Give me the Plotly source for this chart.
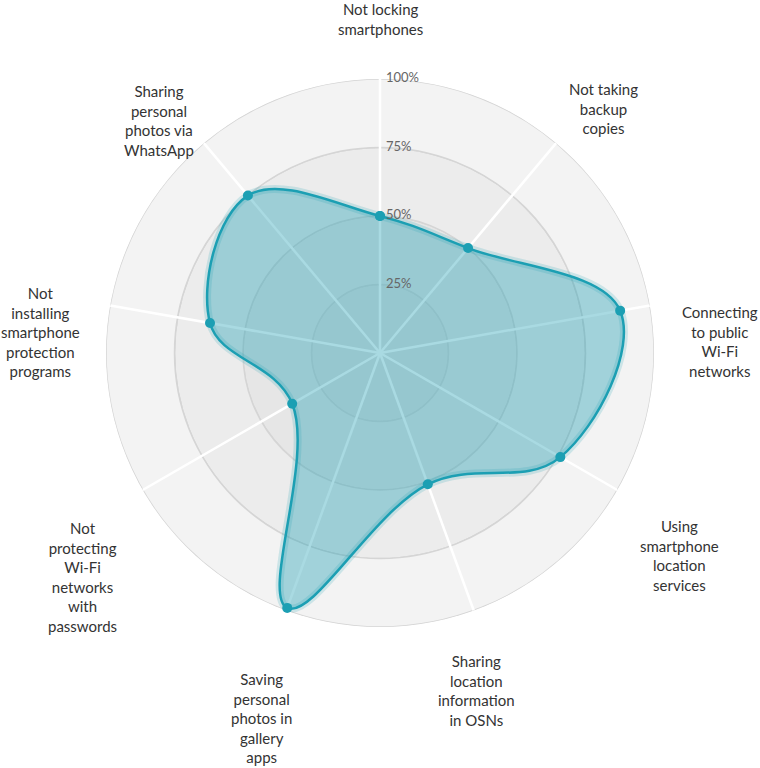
import math
import plotly.graph_objects as go

# ---- data ----
categories = [
    "Not locking smartphones",
    "Not taking backup copies",
    "Connecting to public Wi-Fi networks",
    "Using smartphone location services",
    "Sharing location information in OSNs",
    "Saving personal photos in gallery apps",
    "Not protecting Wi-Fi networks with passwords",
    "Not installing smartphone protection programs",
    "Sharing personal photos via WhatsApp",
]
category_labels = [
    "Not locking<br>smartphones",
    "Not taking<br>backup<br>copies",
    "Connecting<br>to public<br>Wi-Fi<br>networks",
    "Using<br>smartphone<br>location<br>services",
    "Sharing<br>location<br>information<br>in OSNs",
    "Saving<br>personal<br>photos in<br>gallery<br>apps",
    "Not<br>protecting<br>Wi-Fi<br>networks<br>with<br>passwords",
    "Not<br>installing<br>smartphone<br>protection<br>programs",
    "Sharing<br>personal<br>photos via<br>WhatsApp",
]
values = [50, 50, 89, 76, 51, 99, 37, 63, 75]
radial_ticks = [25, 50, 75, 100]
radial_tick_labels = ["25%", "50%", "75%", "100%"]

# ---- styling / layout ----
n = len(categories)
thetas = [i * 360.0 / n for i in range(n)]
# category label placement: distance (in axis units) and angle (deg, clockwise from top)
label_r = [122, 121, 124, 132, 128, 140, 136, 124, 117]
label_theta = [0, 42.5, 88, 124, 164, 198, 233, 273.5, 316.5]

teal = "#1c9fb3"
font_family = "Lato, 'Open Sans', sans-serif"

W, H = 760, 768
cx, cy, rad = 380, 353, 274   # polar centre and outer radius in pixels
r_max = 100.0

fig = go.Figure()

# concentric background bands
fig.add_trace(go.Barpolar(
    r=[25, 25, 25, 25],
    base=[0, 25, 50, 75],
    theta=[180, 180, 180, 180],
    width=[360, 360, 360, 360],
    marker=dict(color=["#e1e1e1", "#e6e6e6", "#ececec", "#f3f3f3"],
                line=dict(color="#d5d5d5", width=1.5)),
    hoverinfo="skip",
    showlegend=False,
))

# spokes
spoke_r, spoke_t = [], []
for t in thetas:
    spoke_r += [0, r_max, None]
    spoke_t += [t, t, None]
fig.add_trace(go.Scatterpolar(
    r=spoke_r, theta=spoke_t, mode="lines",
    line=dict(color="white", width=2.5),
    hoverinfo="skip", showlegend=False,
))

closed_r = values + [values[0]]
closed_t = thetas + [thetas[0]]

# soft glow under the line
fig.add_trace(go.Scatterpolar(
    r=closed_r, theta=closed_t, mode="lines",
    line=dict(color="rgba(28,159,179,0.18)", width=8, shape="spline", smoothing=1.1),
    hoverinfo="skip", showlegend=False,
))

# main series
fig.add_trace(go.Scatterpolar(
    r=closed_r, theta=closed_t, mode="lines+markers",
    fill="toself", fillcolor="rgba(28,159,179,0.38)",
    line=dict(color=teal, width=2.5, shape="spline", smoothing=1.1),
    marker=dict(color=teal, size=10),
    hoverinfo="skip", showlegend=False,
))

# radial tick labels (invisible markers give the text its offset from the spoke)
fig.add_trace(go.Scatterpolar(
    r=radial_ticks, theta=[0] * len(radial_ticks), mode="markers+text",
    marker=dict(size=8, color="rgba(0,0,0,0)"),
    text=radial_tick_labels, textposition="middle right",
    textfont=dict(family=font_family, size=13, color="#666666"),
    hoverinfo="skip", showlegend=False, cliponaxis=False,
))

# category labels outside the circle (placed from polar geometry)
annotations = []
for txt, lr, lt in zip(category_labels, label_r, label_theta):
    d = lr / r_max * rad
    px = cx + d * math.sin(math.radians(lt))
    py = cy - d * math.cos(math.radians(lt))
    annotations.append(dict(
        x=px / W, y=1 - py / H, xref="paper", yref="paper",
        text=txt, showarrow=False, xanchor="center", yanchor="middle",
        align="center",
        font=dict(family=font_family, size=15, color="#333333"),
    ))

fig.update_layout(
    width=W, height=H,
    margin=dict(l=0, r=0, t=0, b=0),
    paper_bgcolor="white",
    showlegend=False,
    annotations=annotations,
    polar=dict(
        domain=dict(x=[(cx - rad) / W, (cx + rad) / W],
                    y=[(H - cy - rad) / H, (H - cy + rad) / H]),
        bgcolor="rgba(0,0,0,0)",
        barmode="overlay",
        radialaxis=dict(range=[0, r_max], showgrid=False, showline=False,
                        showticklabels=False, ticks=""),
        angularaxis=dict(type="linear", direction="clockwise", rotation=90,
                         showgrid=False, showline=False, showticklabels=False,
                         ticks=""),
    ),
)

fig.write_html("out.html", config={"displayModeBar": False},
               post_script="document.body.style.margin='0px';")
